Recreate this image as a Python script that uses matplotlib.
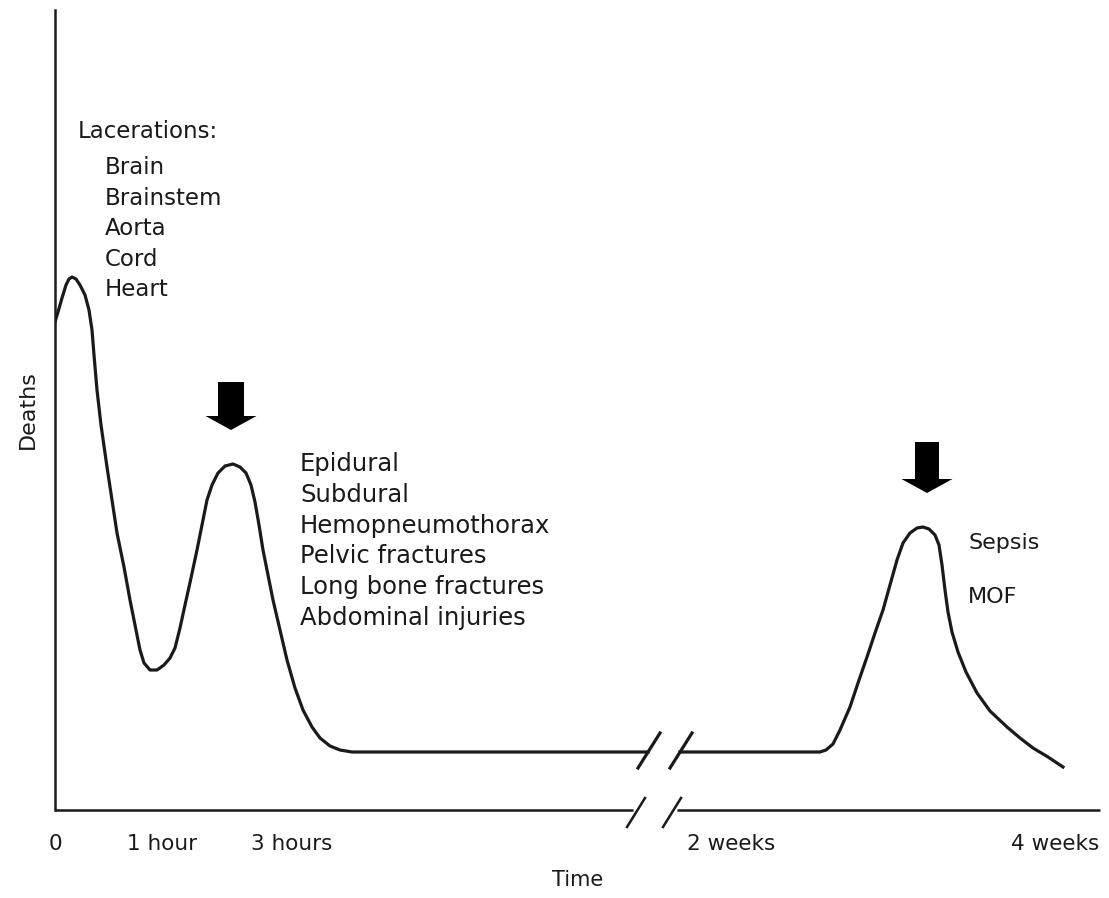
import matplotlib
matplotlib.use("Agg")
import matplotlib.pyplot as plt
from matplotlib.patches import FancyArrow

# curve (x: time scale units, y: deaths scale units)
early_x = [0, 3, 7, 11, 14, 17, 21, 25, 30, 34, 37, 39, 42, 46, 52, 57, 62, 69, 75, 80,
           85, 89, 95, 102, 109, 115, 120, 125, 130, 136, 142, 147, 152, 157, 163, 170,
           178, 185, 191, 196, 200, 204, 208, 213, 218, 225, 232, 240, 248, 257, 265,
           275, 285, 297, 593]
early_y = [488, 498, 512, 525, 531, 533, 531, 525, 515, 500, 480, 455, 420, 385, 343,
           310, 277, 243, 210, 185, 160, 147, 140, 140, 145, 152, 162, 182, 205, 232,
           260, 285, 310, 325, 337, 344, 346, 343, 337, 325, 308, 285, 260, 235, 210,
           180, 150, 122, 100, 83, 72, 64, 60, 58, 58]
late_x = [625, 765, 771, 778, 785, 795, 803, 812, 820, 828, 835, 842, 848, 855, 862,
          868, 874, 880, 884, 887, 890, 893, 897, 903, 911, 922, 935, 952, 965, 978,
          993, 1008]
late_y = [58, 58, 60, 66, 80, 103, 127, 153, 177, 200, 225, 250, 267, 277, 282, 283,
          281, 275, 265, 245, 220, 198, 178, 158, 138, 117, 99, 83, 72, 62, 53, 43]

tick_pos = [0, 107, 237, 676, 1000]
tick_labels = ["0", "1 hour", "3 hours", "2 weeks", "4 weeks"]

phase1_head = "Lacerations:"
phase1_items = ["Brain", "Brainstem", "Aorta", "Cord", "Heart"]
phase2_items = ["Epidural", "Subdural", "Hemopneumothorax", "Pelvic fractures",
                "Long bone fractures", "Abdominal injuries"]
phase3_items = ["Sepsis", "MOF"]

W, H = 1109, 898
fig = plt.figure(figsize=(W / 100, H / 100), dpi=100)
ax = fig.add_axes([55 / W, 88 / H, 1045 / W, 800 / H])
ax.set_xlim(0, 1045)
ax.set_ylim(0, 800)

ink = "#1a1a1a"
for s in ["top", "right", "bottom"]:
    ax.spines[s].set_visible(False)
ax.spines["left"].set_color(ink)
ax.spines["left"].set_linewidth(1.8)

# bottom axis with a break
ax.plot([0, 578], [0, 0], color=ink, lw=1.8, clip_on=False, solid_capstyle="butt")
ax.plot([622, 1045], [0, 0], color=ink, lw=1.8, clip_on=False, solid_capstyle="butt")
for x0 in [572, 608]:
    ax.plot([x0, x0 + 18], [-17, 12], color=ink, lw=1.8, clip_on=False)

# curve
ax.plot(early_x, early_y, color=ink, lw=2.3, solid_joinstyle="round")
ax.plot(late_x, late_y, color=ink, lw=2.3, solid_joinstyle="round")
for x0 in [583, 615]:
    ax.plot([x0, x0 + 22], [42, 77], color=ink, lw=2.3)

# arrows
for cx, top, tip, sw in [(176, 428, 380, 26), (872, 368, 317, 24)]:
    ax.add_patch(FancyArrow(cx, top, 0, tip - top, width=sw, head_width=51,
                            head_length=14, length_includes_head=True,
                            color="black", lw=0))

ax.set_yticks([])
ax.set_xticks(tick_pos, tick_labels)
ax.tick_params(axis="x", length=0, pad=17, labelsize=15.5, colors=ink)
ax.set_ylabel("Deaths", fontsize=16, labelpad=12, color=ink)
ax.set_xlabel("Time", fontsize=15, labelpad=12, color=ink)

ax.text(23, 678, phase1_head, fontsize=16.5, va="center", color=ink)
for i, t in enumerate(phase1_items):
    ax.text(50, 642 - i * 30.5, t, fontsize=16.5, va="center", color=ink)
for i, t in enumerate(phase2_items):
    ax.text(245, 346 - i * 30.8, t, fontsize=17.5, va="center", color=ink)
for i, t in enumerate(phase3_items):
    ax.text(913, 267 - i * 54, t, fontsize=16, va="center", color=ink)

fig.savefig("out.png", dpi=100)
